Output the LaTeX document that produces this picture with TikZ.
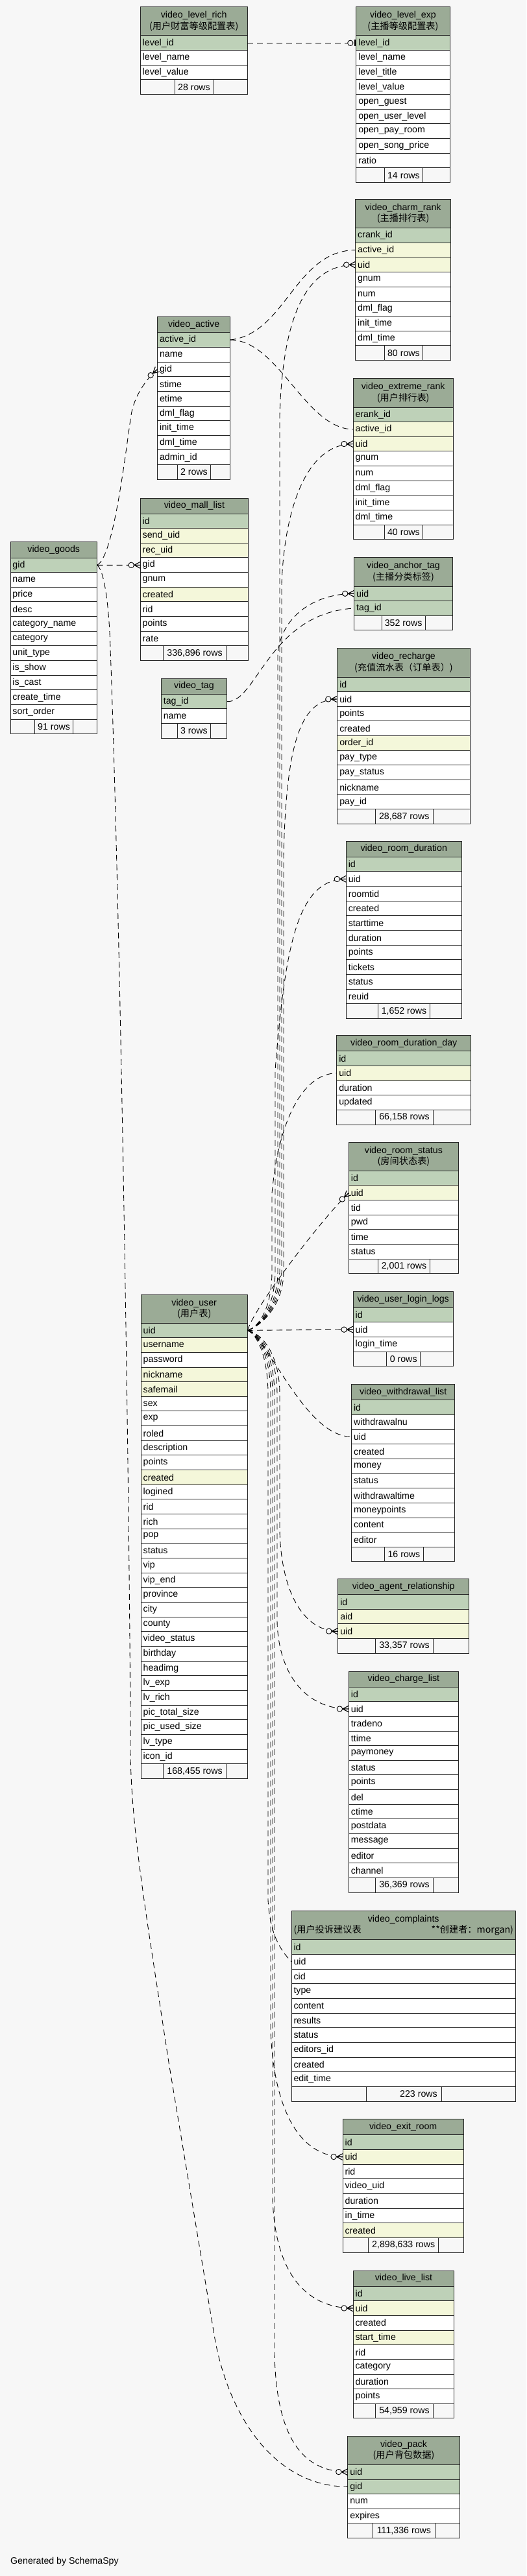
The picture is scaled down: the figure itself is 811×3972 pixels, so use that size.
\documentclass[tikz,border=0pt]{standalone}
\usepackage{fontspec}
\setmainfont{Liberation Sans}
\newfontfamily\cjk{Noto Sans CJK SC}
\usetikzlibrary{decorations.markings}
\definecolor{bgc}{HTML}{F7F7F7}
\definecolor{hdrc}{HTML}{9BAB96}
\definecolor{ck}{HTML}{BED1B8}
\definecolor{cf}{HTML}{F4F7DA}
\definecolor{cn}{HTML}{FFFFFF}
\newcommand\tbfont{\fontsize{14.2}{17.3}\selectfont}
\def\rh{22.66}
\tikzset{
  tbhdr/.style={anchor=north west, fill=hdrc, draw=black!85, line width=1pt, align=center, inner xsep=3.5pt, inner ysep=0pt, outer sep=0pt, font=\tbfont},
  tbrow/.style={anchor=north west, draw=black!85, line width=1pt, align=left, inner xsep=3.5pt, inner ysep=0pt, outer sep=0pt, minimum height=\rh pt, font=\tbfont},
  tbfoot/.style={anchor=north west, draw=black!85, line width=1pt, fill=bgc, inner sep=0pt, outer sep=0pt, minimum height=\rh pt, font=\tbfont},
  fk/.style={draw=black, line width=0.9pt, dash pattern=on 9pt off 6pt},
  many/.style={postaction={decorate, decoration={markings, mark=at position 1 with {
     \draw[solid,line width=0.9pt,fill=bgc] (-14pt,0pt) circle (4.2pt);
     \draw[solid,line width=1.1pt] (-9.5pt,0pt) -- (0pt,5pt) (-9.5pt,0pt) -- (0pt,-5pt) (-9.5pt,0pt) -- (0pt,0pt);}}}},
  one/.style={postaction={decorate, decoration={markings, mark=at position 1 with {
     \draw[solid,line width=0.9pt,fill=bgc] (-9pt,0pt) circle (4.2pt);
     \draw[solid,line width=2pt] (-2pt,-5pt) -- (-2pt,5pt);}}}},
}
\newcommand\dbtable[6]{%
  \xdef\tbid{#1}\xdef\tbx{#2}\xdef\tby{#3}\xdef\tbw{#4}\xdef\tbh{#5}%
  \pgfmathsetmacro\tmpw{#4-7}\xdef\tw{\tmpw}%
  \node[tbhdr,text width=\tw pt,minimum height=#5pt] (#1) at (#2,#3) {#6};%
}
\newcommand\dbrows[1]{%
  \foreach \kk/\rn [count=\ii] in {#1} {%
    \pgfmathsetmacro\ry{\tby+\tbh+(\ii-1)*\rh}%
    \node[tbrow,fill=c\kk,text width=\tw pt] (\tbid-\rn) at (\tbx,\ry) {\rn};%
    \xdef\tbn{\ii}%
  }%
}
\newcommand\dbfoot[3]{%
  \pgfmathsetmacro\fy{\tby+\tbh+\tbn*\rh}%
  \pgfmathsetmacro\wa{#1-\tbx}%
  \pgfmathsetmacro\wb{#2-#1}%
  \pgfmathsetmacro\wc{\tbx+\tbw-#2}%
  \node[tbfoot,minimum width=\wa pt] (\tbid-fl) at (\tbx,\fy) {};%
  \node[tbfoot,minimum width=\wb pt] (\tbid-rows) at (#1,\fy) {#3};%
  \node[tbfoot,minimum width=\wc pt] (\tbid-fr) at (#2,\fy) {};%
}
\catcode`\_=12
\begin{document}
\begin{tikzpicture}[x=1pt,y=-1pt]
\useasboundingbox (0,0) rectangle (811,3972);
\fill[bgc] (0,0) rectangle (811,3972);

\dbtable{video_level_rich}{216.2}{10.7}{165}{44.3}{video_level_rich\\{\cjk (用户财富等级配置表)}}
\dbrows{k/level_id,n/level_name,n/level_value}
\dbfoot{269}{329}{28 rows}

\dbtable{video_level_exp}{548.8}{10.7}{144.3}{44.3}{video_level_exp\\{\cjk (主播等级配置表)}}
\dbrows{k/level_id,n/level_name,n/level_title,n/level_value,n/open_guest,n/open_user_level,n/open_pay_room,n/open_song_price,n/ratio}
\dbfoot{592.2}{651.7}{14 rows}

\dbtable{video_charm_rank}{547.7}{307.3}{146.9}{44.3}{video_charm_rank\\{\cjk (主播排行表)}}
\dbrows{k/crank_id,f/active_id,f/uid,n/gnum,n/num,n/dml_flag,n/init_time,n/dml_time}
\dbfoot{592.2}{651.7}{80 rows}

\dbtable{video_extreme_rank}{544.1}{583.7}{154.2}{44.3}{video_extreme_rank\\{\cjk (用户排行表)}}
\dbrows{k/erank_id,f/active_id,f/uid,n/gnum,n/num,n/dml_flag,n/init_time,n/dml_time}
\dbfoot{592.2}{651.7}{40 rows}

\dbtable{video_active}{242.6}{488.7}{112.2}{24}{video_active}
\dbrows{k/active_id,n/name,n/gid,n/stime,n/etime,n/dml_flag,n/init_time,n/dml_time,n/admin_id}
\dbfoot{273.1}{324.8}{2 rows}

\dbtable{video_mall_list}{216.2}{768}{166.5}{24}{video_mall_list}
\dbrows{k/id,f/send_uid,f/rec_uid,n/gid,n/gnum,f/created,n/rid,n/points,n/rate}
\dbfoot{251.9}{348.1}{336,896 rows}

\dbtable{video_goods}{16}{835.7}{133.5}{24.3}{video_goods}
\dbrows{k/gid,n/name,n/price,n/desc,n/category_name,n/category,n/unit_type,n/is_show,n/is_cast,n/create_time,n/sort_order}
\dbfoot{53.3}{112.8}{91 rows}

\dbtable{video_tag}{248.3}{1046.3}{101.3}{24}{video_tag}
\dbrows{k/tag_id,n/name}
\dbfoot{273.1}{324.8}{3 rows}

\dbtable{video_anchor_tag}{545.7}{859.7}{151.5}{44.3}{video_anchor_tag\\{\cjk (主播分类标签)}}
\dbrows{k/uid,k/tag_id}
\dbfoot{588}{655.3}{352 rows}

\dbtable{video_recharge}{519.8}{999.7}{204.3}{44.3}{video_recharge\\{\cjk (充值流水表（订单表）)}}
\dbrows{k/id,n/uid,n/points,n/created,f/order_id,n/pay_type,n/pay_status,n/nickname,n/pay_id}
\dbfoot{578.3}{667.2}{28,687 rows}

\dbtable{video_room_duration}{533.3}{1297}{177.9}{24.3}{video_room_duration}
\dbrows{k/id,n/uid,n/roomtid,n/created,n/starttime,n/duration,n/points,n/tickets,n/status,n/reuid}
\dbfoot{582.4}{662.6}{1,652 rows}

\dbtable{video_room_duration_day}{518.8}{1596.7}{206.9}{24}{video_room_duration_day}
\dbrows{k/id,f/uid,n/duration,n/updated}
\dbfoot{578.8}{667.2}{66,158 rows}

\dbtable{video_room_status}{537.4}{1761}{169.1}{44.3}{video_room_status\\{\cjk (房间状态表)}}
\dbrows{k/id,f/uid,n/tid,n/pwd,n/time,n/status}
\dbfoot{582.4}{662.6}{2,001 rows}

\dbtable{video_user_login_logs}{544.1}{1991.7}{154.2}{24.3}{video_user_login_logs}
\dbrows{k/id,n/uid,n/login_time}
\dbfoot{595.8}{647.6}{0 rows}

\dbtable{video_user}{217.2}{1996}{164}{44}{video_user\\{\cjk (用户表)}}
\dbrows{k/uid,f/username,n/password,f/nickname,f/safemail,n/sex,n/exp,n/roled,n/description,n/points,f/created,n/logined,n/rid,n/rich,n/pop,n/status,n/vip,n/vip_end,n/province,n/city,n/county,n/video_status,n/birthday,n/headimg,n/lv_exp,n/lv_rich,n/pic_total_size,n/pic_used_size,n/lv_type,n/icon_id}
\dbfoot{251.9}{348.1}{168,455 rows}

\dbtable{video_withdrawal_list}{541.5}{2134.7}{159.3}{24}{video_withdrawal_list}
\dbrows{k/id,n/withdrawalnu,n/uid,n/created,n/money,n/status,n/withdrawaltime,n/moneypoints,n/content,n/editor}
\dbfoot{592.2}{652.7}{16 rows}

\dbtable{video_agent_relationship}{520.8}{2434.3}{201.8}{24.3}{video_agent_relationship}
\dbrows{k/id,f/aid,f/uid}
\dbfoot{578.8}{667.2}{33,357 rows}

\dbtable{video_charge_list}{537.4}{2577}{169.1}{24}{video_charge_list}
\dbrows{k/id,n/uid,n/tradeno,n/ttime,n/paymoney,n/status,n/points,n/del,n/ctime,n/postdata,n/message,n/editor,n/channel}
\dbfoot{578.8}{667.2}{36,369 rows}

\dbtable{video_complaints}{449}{2946.3}{345.5}{44.4}{video_complaints\\\hbox to \tw pt{\cjk (用户投诉建议表\hfill **创建者：morgan)}}
\dbrows{k/id,n/uid,n/cid,n/type,n/content,n/results,n/status,n/editors_id,n/created,n/edit_time}
\dbfoot{564.8}{680.2}{\hspace*{45pt}223 rows}

\dbtable{video_exit_room}{528.1}{3267.7}{186.2}{24}{video_exit_room}
\dbrows{k/id,f/uid,n/rid,n/video_uid,n/duration,n/in_time,f/created}
\dbfoot{567.9}{675.5}{2,898,633 rows}

\dbtable{video_live_list}{544.1}{3501}{155.7}{24}{video_live_list}
\dbrows{k/id,f/uid,n/created,f/start_time,n/rid,n/category,n/duration,n/points}
\dbfoot{578.8}{667.2}{54,959 rows}

\dbtable{video_pack}{535.8}{3756}{172.3}{44.3}{video_pack\\{\cjk (用户背包数据)}}
\dbrows{k/uid,k/gid,n/num,n/expires}
\dbfoot{574.6}{670.3}{111,336 rows}

\node[anchor=west,inner sep=0pt,font=\tbfont] (gen) at (16,3950) {Generated by SchemaSpy};

% connectors
\draw[fk,one] (video_level_rich-level_id.east) -- (video_level_exp-level_id.west);

\draw[fk,many] (video_active-active_id.east) .. controls (440,515) and (455,386) .. (video_charm_rank-active_id.west);
\draw[fk,many] (video_active-active_id.east) .. controls (430,525) and (470,661) .. (video_extreme_rank-active_id.west);

\draw[fk,many] (video_goods-gid.east) -- (video_mall_list-gid.west);
\draw[fk,many] (video_goods-gid.east) .. controls (175,860) and (193,700) .. (202,640) .. controls (207,610) and (225,585) .. (video_active-gid.west);
\draw[fk,many] (video_goods-gid.east) .. controls (160,878) and (168,930) .. (170,1000) .. controls (185,1400) and (200,2300) .. (201,2700) .. controls (202,2820) and (225,2950) .. (260,3180) -- (330,3600) .. controls (350,3720) and (420,3834) .. (video_pack-gid.west);

\draw[fk,many] (video_tag-tag_id.east) .. controls (395,1085) and (415,945) .. (video_anchor_tag-tag_id.west);

% video_user.uid upward
\draw[fk,many] (video_user-uid.east) .. controls (400,2046) and (431,2015) .. (431,1960) -- (431,640) .. controls (436,480) and (475,408) .. (video_charm_rank-uid.west);
\draw[fk,many] (video_user-uid.east) .. controls (400,2046) and (434,2015) .. (434,1960) -- (434,900) .. controls (438,790) and (470,684) .. (video_extreme_rank-uid.west);
\draw[fk,many] (video_user-uid.east) .. controls (400,2046) and (428,2015) .. (428,1960) -- (428,1010) .. controls (431,955) and (480,915) .. (video_anchor_tag-uid.west);
\draw[fk,many] (video_user-uid.east) .. controls (400,2046) and (437,2015) .. (437,1960) -- (437,1320) .. controls (441,1140) and (465,1078) .. (video_recharge-uid.west);
\draw[fk,many] (video_user-uid.east) .. controls (400,2046) and (424,2015) .. (424,1960) -- (424,1650) .. controls (440,1450) and (460,1356) .. (video_room_duration-uid.west);
\draw[fk,one] (video_user-uid.east) .. controls (400,2046) and (419,2015) .. (419,1960) -- (419,1840) .. controls (430,1720) and (470,1655) .. (video_room_duration_day-uid.west);
\draw[fk,many] (video_user-uid.east) .. controls (395,2010) and (500,1875) .. (video_room_status-uid.west);
\draw[fk,many] (video_user-uid.east) -- (video_user_login_logs-uid.west);

% video_user.uid downward
\draw[fk,many] (video_user-uid.east) .. controls (415,2065) and (470,2215) .. (video_withdrawal_list-uid.west);
\draw[fk,many] (video_user-uid.east) .. controls (405,2056) and (431,2090) .. (431,2150) -- (431,2360) .. controls (433,2450) and (465,2515) .. (video_agent_relationship-uid.west);
\draw[fk,many] (video_user-uid.east) .. controls (402,2056) and (427,2090) .. (427,2150) -- (427,2500) .. controls (429,2580) and (470,2635) .. (video_charge_list-uid.west);
\draw[fk,many] (video_user-uid.east) .. controls (395,2056) and (413,2090) .. (413,2150) -- (413,2930) .. controls (416,2980) and (430,3005) .. (video_complaints-uid.west);
\draw[fk,many] (video_user-uid.east) .. controls (396,2056) and (417,2090) .. (417,2150) -- (417,3130) .. controls (422,3260) and (465,3325) .. (video_exit_room-uid.west);
\draw[fk,many] (video_user-uid.east) .. controls (398,2056) and (420,2090) .. (420,2150) -- (420,3390) .. controls (424,3510) and (475,3559) .. (video_live_list-uid.west);
\draw[fk,many] (video_user-uid.east) .. controls (400,2056) and (423,2090) .. (423,2150) -- (423,3630) .. controls (426,3765) and (470,3811) .. (video_pack-uid.west);
\end{tikzpicture}
\end{document}
